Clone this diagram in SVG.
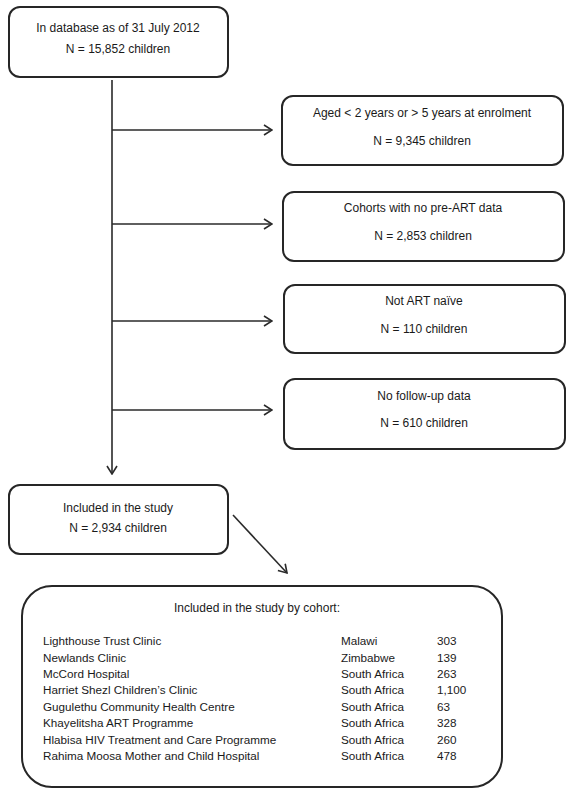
<svg xmlns="http://www.w3.org/2000/svg" width="574" height="800" viewBox="0 0 574 800">
<style>
.box{fill:#fff;stroke:#262626;stroke-width:2}
.t{font-family:"Liberation Sans",Arial,sans-serif;font-size:12px;fill:#1a1a1a;text-anchor:middle}
.r{font-family:"Liberation Sans",Arial,sans-serif;font-size:11.7px;fill:#1a1a1a}
.ln{fill:none;stroke:#2a2a2a;stroke-width:1.6}
</style>
<defs>
<marker id="ah" viewBox="0 0 10 12" refX="9" refY="6" markerWidth="10" markerHeight="12" markerUnits="userSpaceOnUse" orient="auto">
<path d="M1,1 L9,6 L1,11" fill="none" stroke="#2a2a2a" stroke-width="1.6"/>
</marker>
</defs>
<rect width="574" height="800" fill="#fff"/>
<g id="connectors">
<line class="ln" x1="112" y1="80" x2="112" y2="474" marker-end="url(#ah)"/>
<line class="ln" x1="112" y1="130" x2="272" y2="130" marker-end="url(#ah)"/>
<line class="ln" x1="112" y1="224" x2="272" y2="224" marker-end="url(#ah)"/>
<line class="ln" x1="112" y1="321" x2="272" y2="321" marker-end="url(#ah)"/>
<line class="ln" x1="112" y1="410" x2="272" y2="410" marker-end="url(#ah)"/>
<line class="ln" x1="233" y1="515" x2="287" y2="573" marker-end="url(#ah)"/>
</g>
<g id="n-database">
<rect class="box" x="9" y="7" width="219" height="70" rx="11"/>
<text class="t" x="118" y="32">In database as of 31 July 2012</text>
<text class="t" x="118" y="53">N = 15,852 children</text>
</g>
<g id="n-aged">
<rect class="box" x="282" y="96" width="281" height="69" rx="11"/>
<text class="t" x="422" y="117">Aged &lt; 2 years or &gt; 5 years at enrolment</text>
<text class="t" x="422" y="145">N = 9,345 children</text>
</g>
<g id="n-cohorts">
<rect class="box" x="283" y="192" width="281" height="69" rx="11"/>
<text class="t" x="423" y="212">Cohorts with no pre-ART data</text>
<text class="t" x="423" y="240">N = 2,853 children</text>
</g>
<g id="n-naive">
<rect class="box" x="284" y="285" width="281" height="68" rx="11"/>
<text class="t" x="424" y="305">Not ART naïve</text>
<text class="t" x="424" y="333">N = 110 children</text>
</g>
<g id="n-followup">
<rect class="box" x="284" y="379" width="281" height="70" rx="11"/>
<text class="t" x="424" y="400">No follow-up data</text>
<text class="t" x="424" y="427">N = 610 children</text>
</g>
<g id="n-included">
<rect class="box" x="9" y="485" width="219" height="69" rx="11"/>
<text class="t" x="118" y="512">Included in the study</text>
<text class="t" x="118" y="532">N = 2,934 children</text>
</g>
<g id="n-bycohort">
<rect class="box" x="22" y="586" width="480" height="201" rx="30"/>
<text class="t" x="257" y="612">Included in the study by cohort:</text>
<g class="r">
<text x="43" y="645">Lighthouse Trust Clinic</text><text x="341" y="645">Malawi</text><text x="437" y="645">303</text>
<text x="43" y="661.5">Newlands Clinic</text><text x="341" y="661.5">Zimbabwe</text><text x="437" y="661.5">139</text>
<text x="43" y="678">McCord Hospital</text><text x="341" y="678">South Africa</text><text x="437" y="678">263</text>
<text x="43" y="694">Harriet Shezl Children’s Clinic</text><text x="341" y="694">South Africa</text><text x="437" y="694">1,100</text>
<text x="43" y="710.5">Gugulethu Community Health Centre</text><text x="341" y="710.5">South Africa</text><text x="437" y="710.5">63</text>
<text x="43" y="727">Khayelitsha ART Programme</text><text x="341" y="727">South Africa</text><text x="437" y="727">328</text>
<text x="43" y="743.5">Hlabisa HIV Treatment and Care Programme</text><text x="341" y="743.5">South Africa</text><text x="437" y="743.5">260</text>
<text x="43" y="760">Rahima Moosa Mother and Child Hospital</text><text x="341" y="760">South Africa</text><text x="437" y="760">478</text>
</g>
</g>
</svg>
